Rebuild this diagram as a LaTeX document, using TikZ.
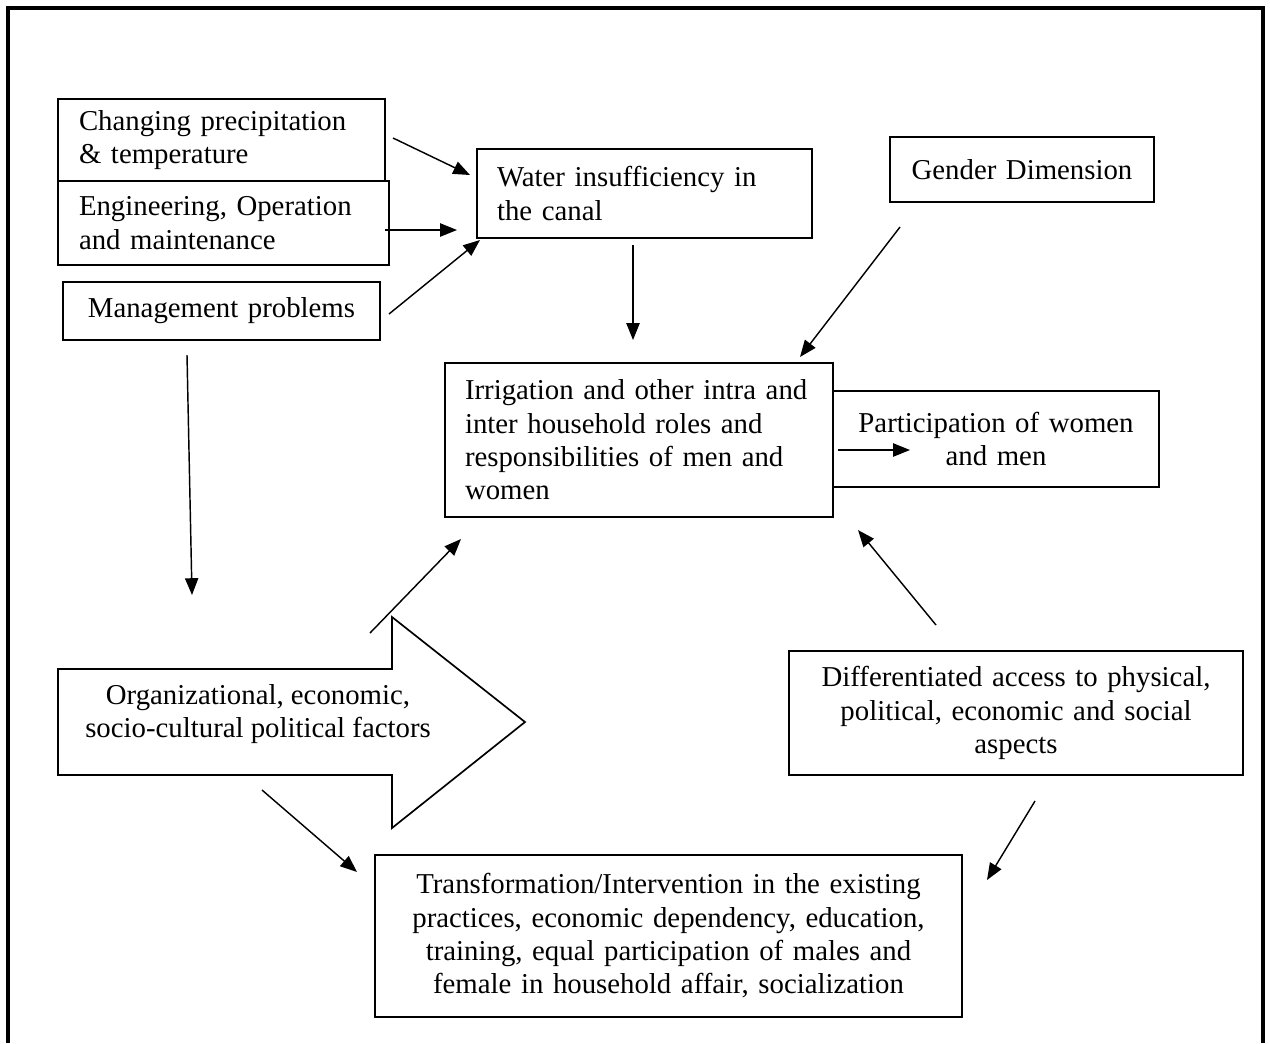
\documentclass[tikz,border=0pt]{standalone}
\usepackage{fontspec}
\setmainfont{Liberation Serif}
\usetikzlibrary{arrows.meta}
\newcommand\mybox[8]{%
  \pgfmathsetmacro\bw{(#4-#2)*0.4167}%
  \pgfmathsetmacro\bh{(#5-#3)*0.4167}%
  \pgfmathsetmacro\tw{(#4-#2-2*#7)*0.4167}%
  \pgfmathsetmacro\cx{(#2+#4)/2}%
  \pgfmathsetmacro\cy{(#3+#5)/2}%
  \node[box, minimum width=\bw pt, minimum height=\bh pt, text width=\tw pt, align=#6] (#1) at (\cx,\cy) {#8};}
\begin{document}
\begin{tikzpicture}[x=0.4167pt,y=-0.4167pt,
  box/.style={draw, line width=0.7pt, rectangle, inner sep=0pt, font=\fontsize{12}{13.9}\selectfont},
  conn/.style={line width=0.6pt, -{Triangle[length=7pt,width=5.5pt]}}]
\useasboundingbox (0,0) rectangle (1270,1043);
\draw[line width=1.4pt] (8,1043) -- (8,8) -- (1263,8) -- (1263,1043);

\mybox{chg}{58}{99}{385}{181}{left}{21}{Changing precipitation\\ \& temperature}
\mybox{eng}{58}{181}{389}{265}{left}{21}{Engineering, Operation\\ and maintenance}
\mybox{mgt}{63}{282}{380}{340}{center}{10}{Management problems}
\mybox{wat}{477}{149}{812}{238}{left}{20}{Water insufficiency in\\ the canal}
\mybox{gen}{890}{137}{1154}{202}{center}{10}{Gender Dimension}
\mybox{irr}{445}{363}{833}{517}{left}{20}{Irrigation and other intra and\\ inter household roles and\\ responsibilities of men and\\ women}
\mybox{par}{833}{391}{1159}{487}{center}{10}{Participation of women\\ and men}
\mybox{dif}{789}{651}{1243}{775}{center}{10}{Differentiated access to physical,\\ political, economic and social\\ aspects}
\mybox{tra}{375}{855}{962}{1017}{center}{10}{Transformation/Intervention in the existing\\ practices, economic dependency, education,\\ training, equal participation of males and\\ female in household affair, socialization}

% big arrow shape
\draw[line width=0.7pt] (58,669) -- (392,669) -- (392,617) -- (525,722) -- (392,828) -- (392,775) -- (58,775) -- cycle;
\node[font=\fontsize{12}{13.9}\selectfont, align=center, inner sep=0pt] (org) at (258,714) {Organizational, economic,\\ socio-cultural political factors};

% connector end points
\coordinate (a1s) at (393,138); \coordinate (a1e) at (470,175);
\coordinate (a2s) at (385,230); \coordinate (a2e) at (457,230);
\coordinate (a3s) at (389,314); \coordinate (a3e) at (480,240);
\coordinate (a4s) at (633,245); \coordinate (a4e) at (633,340);
\coordinate (a5s) at (900,227); \coordinate (a5e) at (800,357);
\coordinate (a6s) at (187,355); \coordinate (a6e) at (192,595);
\coordinate (a7s) at (370,633); \coordinate (a7e) at (461,539);
\coordinate (a8s) at (838,450); \coordinate (a8e) at (910,450);
\coordinate (a9s) at (936,625); \coordinate (a9e) at (858,530);
\coordinate (a10s) at (262,790); \coordinate (a10e) at (357,872);
\coordinate (a11s) at (1035,801); \coordinate (a11e) at (987,880);

\draw[conn] (a1s) -- (a1e);
\draw[conn] (a2s) -- (a2e);
\draw[conn] (a3s) -- (a3e);
\draw[conn] (a4s) -- (a4e);
\draw[conn] (a5s) -- (a5e);
\draw[conn] (a6s) -- (a6e);
\draw[conn] (a7s) -- (a7e);
\draw[conn] (a8s) -- (a8e);
\draw[conn] (a9s) -- (a9e);
\draw[conn] (a10s) -- (a10e);
\draw[conn] (a11s) -- (a11e);
\end{tikzpicture}
\end{document}
